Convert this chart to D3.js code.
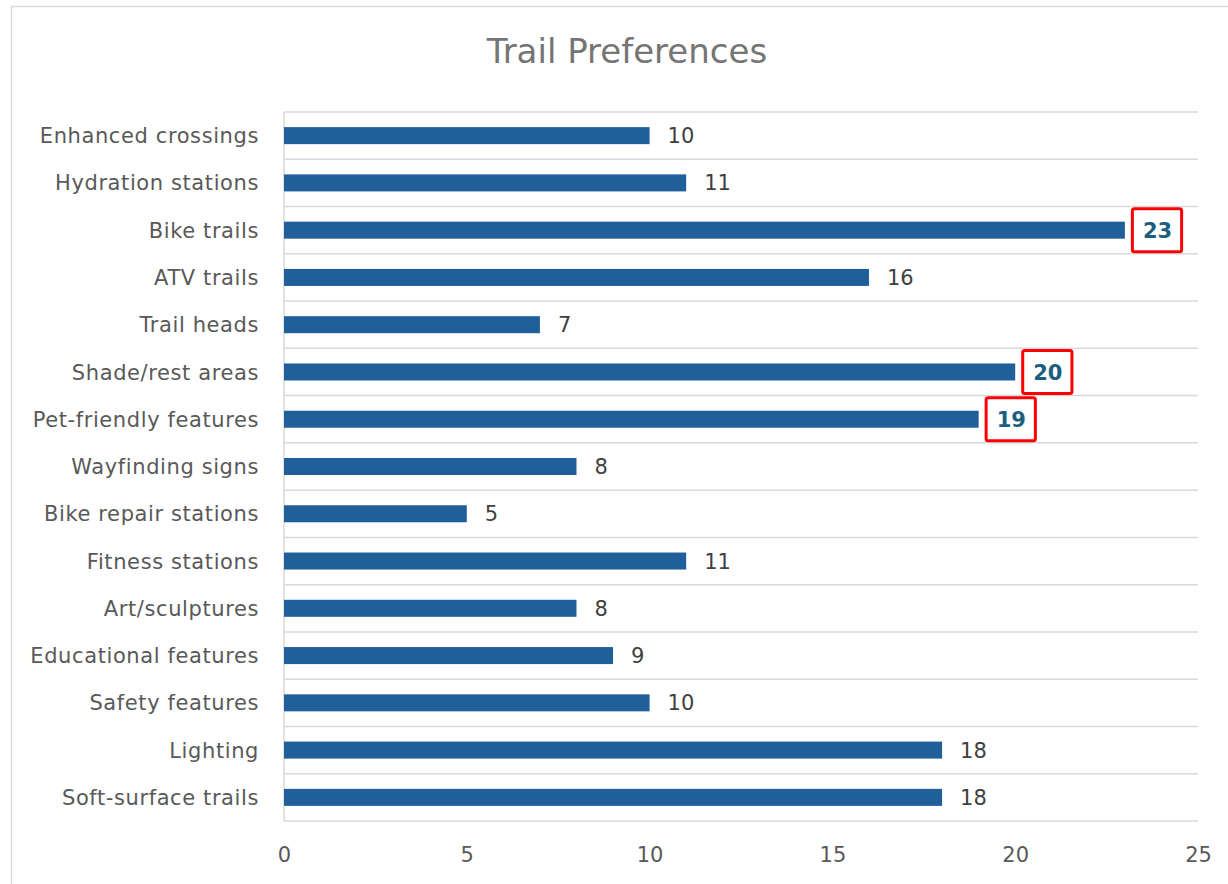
<!DOCTYPE html>
<html>
<head>
<meta charset="utf-8">
<script src="https://cdn.jsdelivr.net/npm/d3@7"></script>
<style>
  html, body { margin: 0; padding: 0; background: #fff; }
  svg { display: block; }
  text { font-family: "DejaVu Sans", "Noto Sans", sans-serif; }
</style>
</head>
<body>
<svg id="chart" width="1228" height="884"></svg>
<script>
// Survey results: number of respondents preferring each trail feature
const categories = [
  "Enhanced crossings", "Hydration stations", "Bike trails", "ATV trails",
  "Trail heads", "Shade/rest areas", "Pet-friendly features", "Wayfinding signs",
  "Bike repair stations", "Fitness stations", "Art/sculptures",
  "Educational features", "Safety features", "Lighting", "Soft-surface trails"
];
const counts = [10, 11, 23, 16, 7, 20, 19, 8, 5, 11, 8, 9, 10, 18, 18];
const highlighted = ["Bike trails", "Shade/rest areas", "Pet-friendly features"];
const xTicks = [0, 5, 10, 15, 20, 25];

const svg = d3.select("#chart");
const plot = { left: 284, right: 1198, top: 112, bottom: 821 };
const FONT = '"DejaVu Sans", "Noto Sans", sans-serif';

// Chart frame
svg.append("rect")
  .attr("x", 11.5).attr("y", 6.5)
  .attr("width", 1240).attr("height", 900)
  .attr("fill", "#fff").attr("stroke", "#d9d9d9").attr("stroke-width", 1.5);

svg.append("text")
  .attr("x", 627).attr("y", 63)
  .attr("text-anchor", "middle")
  .attr("font-size", 34)
  .attr("fill", "#757575")
  .text("Trail Preferences");

const x = d3.scaleLinear().domain([0, 25]).range([plot.left, plot.right]);
const y = d3.scaleBand().domain(categories).range([plot.top, plot.bottom]).paddingInner(0.64).paddingOuter(0.32);
const yGrid = d3.scaleBand().domain(categories).range([plot.top, plot.bottom]);

// Horizontal gridlines at category boundaries
const gridYs = categories.map(c => yGrid(c)).concat([plot.bottom]);
svg.append("g").selectAll("line").data(gridYs).join("line")
  .attr("x1", plot.left).attr("x2", plot.right)
  .attr("y1", d => d).attr("y2", d => d)
  .attr("stroke", "#d9d9d9").attr("stroke-width", 1.5);

// Vertical axis line
svg.append("line")
  .attr("x1", plot.left).attr("x2", plot.left)
  .attr("y1", plot.top).attr("y2", plot.bottom)
  .attr("stroke", "#d9d9d9").attr("stroke-width", 1.5);

// Category labels
svg.append("g").selectAll("text").data(categories).join("text")
  .attr("x", 259)
  .attr("y", d => yGrid(d) + yGrid.bandwidth() / 2)
  .attr("dy", "0.36em")
  .attr("text-anchor", "end")
  .attr("font-size", 21)
  .attr("letter-spacing", 0.6)
  .attr("fill", "#595959")
  .text(d => d);

// X axis tick labels
const xAxis = d3.axisBottom(x).tickValues(xTicks).tickSize(0).tickPadding(26);
const gx = svg.append("g").attr("transform", `translate(0,${plot.bottom})`).call(xAxis);
gx.select(".domain").remove();
gx.selectAll("text")
  .attr("font-size", 21)
  .attr("fill", "#595959")
  .attr("font-family", FONT);

// Bars
svg.append("g").selectAll("rect").data(categories).join("rect")
  .attr("x", x(0))
  .attr("y", c => y(c))
  .attr("width", (c, i) => x(counts[i]) - x(0))
  .attr("height", y.bandwidth())
  .attr("fill", "#215f9a");

// Value labels, with the standout features boxed in red
const labels = svg.append("g").selectAll("g").data(categories).join("g")
  .attr("transform", (c, i) => `translate(${x(counts[i]) + 18},${yGrid(c) + yGrid.bandwidth() / 2})`);

labels.each(function (c, i) {
  const g = d3.select(this);
  const hl = highlighted.includes(c);
  const t = g.append("text")
    .attr("dy", "0.36em")
    .attr("font-size", 21)
    .attr("font-weight", hl ? 700 : 400)
    .attr("fill", hl ? "#1b5e7e" : "#404040")
    .text(counts[i]);
  if (hl) {
    const bb = t.node().getBBox();
    g.insert("rect", "text")
      .attr("x", -10.5)
      .attr("y", -21.5)
      .attr("width", bb.width + 20)
      .attr("height", 43)
      .attr("rx", 2)
      .attr("fill", "none")
      .attr("stroke", "#ff0000")
      .attr("stroke-width", 3);
  }
});
</script>
</body>
</html>
